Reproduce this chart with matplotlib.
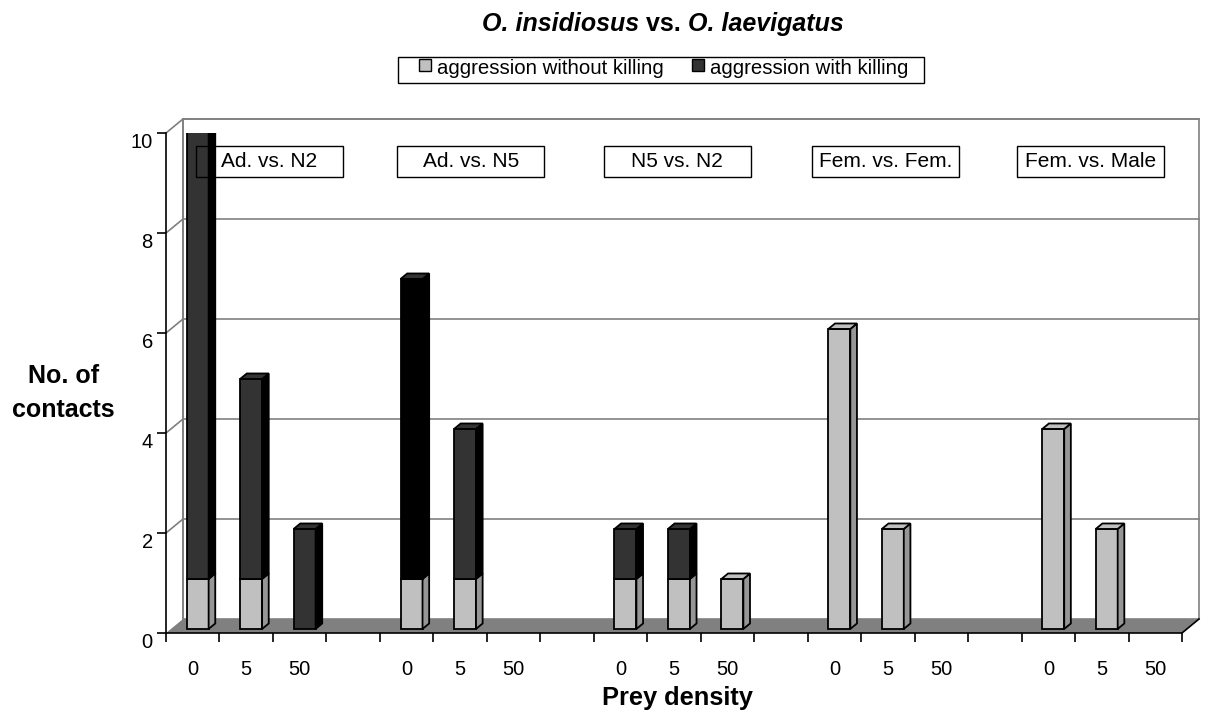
import matplotlib

matplotlib.use("Agg")
import matplotlib.pyplot as plt
from matplotlib.patches import Polygon, Rectangle

plt.rcParams["font.family"] = ["Liberation Sans", "DejaVu Sans"]

# ----------------------------------------------------------------------
# Datos
# ----------------------------------------------------------------------
groups = ["Ad. vs. N2", "Ad. vs. N5", "N5 vs. N2", "Fem. vs. Fem.", "Fem. vs. Male"]
densities = ["0", "5", "50"]
without_killing = [[1, 1, 0], [1, 1, 0], [1, 1, 1], [6, 2, 0], [4, 2, 0]]
with_killing = [[9, 4, 2], [6, 3, 0], [1, 1, 0], [0, 0, 0], [0, 0, 0]]
series_names = ["aggression without killing", "aggression with killing"]
y_ticks = [0, 2, 4, 6, 8, 10]

# colores estilo Excel
LIGHT, LIGHT_SIDE = "#C0C0C0", "#969696"
DARK, DARK_SIDE = "#333333", "#000000"
WALL_LINE = "#808080"
FLOOR = "#808080"

W, H = 1213, 717
n_slots = len(groups) * 4 - 1

# profundidad del "3D" en unidades de datos
DX, DY = 0.318, 0.28
F_FRONT, F_BACK = 0.29, 0.68
BAR_W = 0.41

fig = plt.figure(figsize=(W / 100, H / 100), dpi=100)
ax = fig.add_axes([166 / W, 84 / H, 1016 / W, 500 / H])
ax.set_xlim(-0.5, n_slots - 0.5)
ax.set_ylim(0, 10)
ax.patch.set_visible(False)
for s in ["top", "right"]:
    ax.spines[s].set_visible(False)
ax.spines["left"].set_linewidth(1.2)
ax.spines["bottom"].set_linewidth(1.2)

# pared del fondo
x0, x1 = -0.5, n_slots - 0.5
ax.add_patch(Rectangle((x0 + DX, DY), x1 - x0, 10, facecolor="white",
                       edgecolor=WALL_LINE, lw=1.2, clip_on=False, zorder=0))
for v in y_ticks[1:]:
    ax.plot([x0 + DX, x1 + DX], [v + DY, v + DY], color=WALL_LINE, lw=1.2,
            clip_on=False, zorder=1)
    ax.plot([x0, x0 + DX], [v, v + DY], color=WALL_LINE, lw=1.2,
            clip_on=False, zorder=1)
ax.plot([x0 + DX, x0 + DX], [DY, 10 + DY], color=WALL_LINE, lw=1.2,
        clip_on=False, zorder=1)

# suelo
ax.add_patch(Polygon([(x0, 0), (x1, 0), (x1 + DX, DY), (x0 + DX, DY)],
                     closed=True, facecolor=FLOOR, edgecolor="none",
                     clip_on=False, zorder=2))
ax.plot([x1, x1 + DX], [0, DY], color="black", lw=1.2, clip_on=False, zorder=2)

fx, fy = F_FRONT * DX, F_FRONT * DY
bx, by = F_BACK * DX, F_BACK * DY


def draw_segment(x, bottom, top, front, side, top_face=None):
    xl, xr = x - BAR_W / 2, x + BAR_W / 2
    ax.bar(x + fx, top - bottom, bottom=bottom + fy, width=BAR_W,
           color=front, edgecolor="black", lw=1.3, zorder=3)
    ax.add_patch(Polygon([(xr + fx, bottom + fy), (xr + bx, bottom + by),
                          (xr + bx, top + by), (xr + fx, top + fy)],
                         closed=True, facecolor=side, edgecolor="black",
                         lw=1.3, zorder=3))
    if top_face is not None:
        ax.add_patch(Polygon([(xl + fx, top + fy), (xl + bx, top + by),
                              (xr + bx, top + by), (xr + fx, top + fy)],
                             closed=True, facecolor=top_face,
                             edgecolor="black", lw=1.3, zorder=3))


for g in range(len(groups)):
    for d in range(len(densities)):
        x = g * 4 + d
        a = without_killing[g][d]
        k = with_killing[g][d]
        if a > 0:
            draw_segment(x, 0, a, LIGHT, LIGHT_SIDE, LIGHT if k == 0 else None)
        if k > 0:
            # la barra Ad. vs. N5 / 0 aparece en negro en el original
            front = "#000000" if (g, d) == (1, 0) else DARK
            draw_segment(x, a, a + k, front, DARK_SIDE, DARK)

# ejes
ax.set_yticks(y_ticks)
ax.set_yticklabels([str(v) for v in y_ticks], fontsize=14.5)
ax.tick_params(axis="y", length=6.5, width=1.2, pad=3)
for lab in ax.get_yticklabels():
    lab.set_verticalalignment("top")
ax.set_xticks([i - 0.5 for i in range(n_slots + 1)])
ax.set_xticklabels([])
ax.tick_params(axis="x", which="major", length=6.5, width=1.2)
centers = [g * 4 + d for g in range(len(groups)) for d in range(len(densities))]
ax.set_xticks(centers, minor=True)
ax.set_xticklabels(densities * len(groups), minor=True, fontsize=14.5)
ax.tick_params(axis="x", which="minor", length=0, pad=19.5)

# etiquetas de grupo (cajas de texto)
box_x = [1.43, 5.20, 9.06, 12.95, 16.79]
BOX_W, BOX_H, BOX_Y = 2.75, 0.62, 9.436
for label, cx in zip(groups, box_x):
    ax.add_patch(Rectangle((cx - BOX_W / 2, BOX_Y - BOX_H / 2), BOX_W, BOX_H,
                           facecolor="none", edgecolor="black", lw=1,
                           zorder=5, clip_on=False))
    ax.text(cx, BOX_Y, label, ha="center", va="center", fontsize=15, zorder=6)

# titulo con partes en cursiva
parts = [("O. insidiosus", "italic"), (" vs. ", "normal"), ("O. laevigatus", "italic")]
texts = [fig.text(0, 1 - 31 / H, s, style=st, weight="bold", fontsize=18,
                  va="baseline") for s, st in parts]

# leyenda dibujada a mano (estilo Excel)
leg_texts = [fig.text(0, 1 - 74 / H, s, fontsize=14.7, va="baseline")
             for s in series_names]

fig.canvas.draw()
r = fig.canvas.get_renderer()

widths = [t.get_window_extent(r).width for t in texts]
xpos = 482
for t, w in zip(texts, widths):
    t.set_x(xpos / W)
    xpos += w

LEG_L, LEG_T, LEG_B = 398, 57, 83
xpos = LEG_L + 21
for t, fc in zip(leg_texts, [LIGHT, DARK]):
    fig.patches.append(Rectangle((xpos / W, 1 - 71 / H), 12 / W, 12.5 / H,
                                 transform=fig.transFigure, facecolor=fc,
                                 edgecolor="black", lw=1))
    t.set_x((xpos + 18) / W)
    xpos += 18 + t.get_window_extent(r).width + 28
leg_r = xpos - 28 + 16
fig.patches.append(Rectangle((LEG_L / W, 1 - LEG_B / H), (leg_r - LEG_L) / W,
                             (LEG_B - LEG_T) / H, transform=fig.transFigure,
                             facecolor="none", edgecolor="black", lw=1))

fig.text(63.5 / W, 1 - 383 / H, "No. of", ha="center", va="baseline",
         fontsize=18, weight="bold")
fig.text(63.5 / W, 1 - 417 / H, "contacts", ha="center", va="baseline",
         fontsize=18, weight="bold")
fig.text(677 / W, 1 - 705 / H, "Prey density", ha="center", va="baseline",
         fontsize=18.3, weight="bold")

fig.savefig("out.png", dpi=100)
